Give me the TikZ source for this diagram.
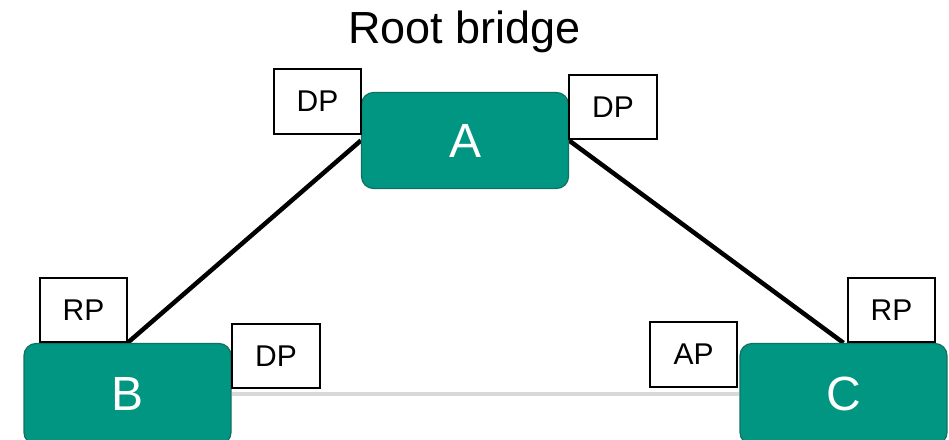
\documentclass[tikz,border=0pt]{standalone}
\usepackage{fontspec}
\setmainfont{Liberation Sans}
\usetikzlibrary{backgrounds}
\definecolor{switchfill}{RGB}{0,150,130}
\definecolor{switchedge}{RGB}{18,112,98}
\definecolor{blockedlink}{RGB}{217,217,217}
\begin{document}
\begin{tikzpicture}[x=1pt,y=1pt,
  switch/.style={draw=switchedge, line width=1.2pt, fill=switchfill, rounded corners=12pt,
    minimum width=207pt, text=white, font=\fontsize{48}{48}\selectfont, inner sep=0pt},
  port/.style={draw=black, line width=2pt, fill=white, minimum width=87.5pt,
    minimum height=64.5pt, inner sep=0pt, font=\fontsize{30}{30}\selectfont},
  link/.style={line width=4.5pt, black},
  altlink/.style={line width=4.5pt, blockedlink}]
\useasboundingbox (0,0) rectangle (949,439);
\clip (0,0) rectangle (949,439);

% bridges
\node[switch, minimum height=96pt] (A) at (465,298.5) {A};
\node[switch, minimum height=101pt] (B) at (127.5,45) {B};
\node[switch, minimum height=101pt] (C) at (843.5,45) {C};

% links between bridges, kept behind the bridges
\begin{scope}[on background layer]
\draw[link] (A.west) -- (B.north);
\draw[link] (A.east) -- (C.north);
\draw[altlink] (B.east) -- (C.west);
\end{scope}

% port roles
\node[port] (dpa1) at (317.5,337.5) {DP};
\node[port] (dpa2) at (613,332) {DP};
\node[port] (rpb) at (83.5,129) {RP};
\node[port] (dpb) at (276,83) {DP};
\node[port] (apc) at (693.5,84.5) {AP};
\node[port] (rpc) at (891.5,129) {RP};

% title
\node[font=\fontsize{45}{45}\selectfont, anchor=base] (title) at (464.5,395) {Root bridge};
\end{tikzpicture}
\end{document}
